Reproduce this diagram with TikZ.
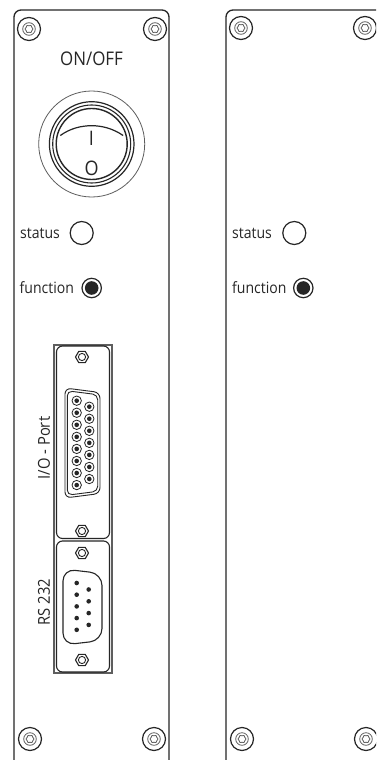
\documentclass[tikz,border=0pt]{standalone}
\usepackage{fontspec}
\setmainfont[FakeStretch=0.9]{Open Sans}
\definecolor{ink}{HTML}{262626}
\definecolor{soft}{HTML}{5E5E5E}
\tikzset{
  panel/.style={draw=ink,line width=1.3pt,rounded corners=7pt},
  label/.style={inner sep=0pt,text=ink},
  ledring/.style={draw=ink,line width=1.2pt,fill=white},
  pics/screw/.style={code={
    \draw[ink,line width=1.2pt] (0,0) circle[radius=11.5];
    \draw[soft,line width=.8pt] (0,0) circle[radius=6.3];
    \draw[soft,line width=.8pt] (0:4) \foreach \a in {30,60,...,330}{ -- (\a:{mod(\a,60)==0?4:3.3})} -- cycle;
  }},
  pics/nut/.style={code={
    \draw[ink,line width=1.1pt] (0:6.5) -- (60:6.5) -- (120:6.5) -- (180:6.5) -- (240:6.5) -- (300:6.5) -- cycle;
    \draw[ink,line width=.9pt] (0,0) circle[radius=3.6];
  }},
  pics/pinbig/.style={code={
    \draw[ink,line width=.8pt] (0,0) circle[radius=4.7];
    \fill[ink] (0,0) circle[radius=2.3];
  }},
  pics/pinsmall/.style={code={
    \fill[ink] (0,0) circle[radius=2.3];
  }}
}
\begin{document}
\begin{tikzpicture}[x=1pt,y=-1pt]
\useasboundingbox (0,0) rectangle (376,760);
\clip (0,0) rectangle (376,760);
\fill[white] (0,0) rectangle (376,760);
% panels
\draw[panel] (14,764) -- (14,10) -- (169,10) -- (169,764);
\draw[panel] (226,764) -- (226,10) -- (395,10);
% screws
\foreach \p in {(29,29),(155,29),(30,739),(154,739),(241,28),(365,28),(242,739),(366,739)}
  \pic at \p {screw};
% switch
\node[label,font=\fontsize{18.8}{21}\selectfont] (onoff) at (91.5,59) {ON/OFF};
\draw[soft,line width=.8pt] (91.7,144) circle[radius=53];
\draw[ink,line width=1.2pt] (91.7,144) circle[radius=42.3];
\draw[ink,line width=1.1pt] (91.7,144) circle[radius=39];
\draw[ink,line width=1.4pt] (91.7,144) circle[radius=35.5];
\draw[ink,line width=1.2pt] (60.3,135.5) .. controls (70,128.5) and (81,125.7) .. (91.7,125.7) .. controls (102,125.7) and (113,128.5) .. (123.1,135.5);
\node[label,font=\fontsize{20}{22}\selectfont] (swI) at (91.3,138) {I};
\node[label,font=\fontsize{20}{22}\selectfont] (swO) at (91.7,168) {O};
% leds left
\node[label,anchor=base west,font=\fontsize{15.6}{17}\selectfont] (st1) at (20,238) {status};
\node[label,anchor=base west,font=\fontsize{15.6}{17}\selectfont] (fn1) at (19.5,293) {function};
\draw[ledring] (81.7,233) circle[radius=11.5];
\draw[ink,line width=1.2pt] (91.7,288) circle[radius=9.7];
\fill[ink] (91.7,288) circle[radius=6.8];
% leds right
\node[label,anchor=base west,font=\fontsize{15.6}{17}\selectfont] (st2) at (232,238) {status};
\node[label,anchor=base west,font=\fontsize{15.6}{17}\selectfont] (fn2) at (232,293) {function};
\draw[ledring] (294.3,233) circle[radius=11.5];
\draw[ink,line width=1.2pt] (303.3,288) circle[radius=9.7];
\fill[ink] (303.3,288) circle[radius=6.8];
% connector block
\draw[soft,line width=1.4pt] (54,345) rectangle (112,673);
\draw[ink,line width=1.1pt,rounded corners=6pt] (56.5,346) rectangle (109.5,538.5);
\draw[ink,line width=1.1pt,rounded corners=6pt] (56.5,541) rectangle (109.5,672);
\foreach \p in {(82,357),(82,531),(82,553),(82,660)}
  \pic at \p {nut};
% 15 pin
\draw[ink,line width=.9pt,rounded corners=6pt] (65,388) -- (100,392.5) -- (100,493.5) -- (65,498) -- cycle;
\draw[ink,line width=.9pt,rounded corners=5pt] (67.3,390.8) -- (97.7,394.7) -- (97.7,491.3) -- (67.3,495.2) -- cycle;
\foreach \i in {0,...,7} \pic at (76.7,{400.7+12.05*\i}) {pinbig};
\foreach \i in {0,...,6} \pic at (89.3,{406.7+12.05*\i}) {pinbig};
% 9 pin
\draw[ink,line width=1.1pt,rounded corners=12pt] (63,569) -- (102,573.5) -- (102,640.5) -- (63,645) -- cycle;
\foreach \i in {0,...,4} \pic at (76.7,{583+11.7*\i}) {pinsmall};
\foreach \i in {0,...,3} \pic at (88.7,{589.5+11.8*\i}) {pinsmall};
% labels
\node[label,rotate=90,font=\fontsize{16.4}{18}\selectfont] (io) at (44,448) {I/O - Port};
\node[label,rotate=90,font=\fontsize{16.4}{18}\selectfont] (rs) at (44,602) {RS 232};
\end{tikzpicture}
\end{document}
